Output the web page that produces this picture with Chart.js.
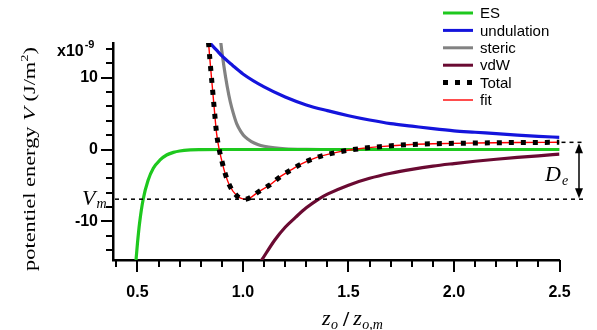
<!DOCTYPE html>
<html><head><meta charset="utf-8">
<script src="https://cdn.jsdelivr.net/npm/chart.js@4/dist/chart.umd.min.js"></script>
<style>html,body{margin:0;padding:0;background:#fff}#wrap{width:597px;height:330px;position:relative}</style>
</head><body><div id="wrap"><canvas id="c" width="597" height="330"></canvas></div>
<script>
// ---- data (x = zo/zo,m, V in 1e-9 J/m2) ----
const esX = [0.485, 0.493, 0.50, 0.51, 0.527, 0.55, 0.575, 0.607, 0.638, 0.67, 0.70, 0.75, 0.80, 0.90, 1.0, 1.5, 2.0, 2.5];
const esV = [-18.5, -15.35, -13.0, -10.2, -6.9, -4.3, -2.6, -1.45, -0.76, -0.4, -0.2, -0.06, -0.02, 0, 0, 0, 0, 0];
const undX = [0.82, 0.836, 0.85, 0.875, 0.9, 0.95, 1.0, 1.1, 1.2, 1.3, 1.4, 1.5, 1.6, 1.7, 1.8, 1.9, 2.0, 2.1, 2.2, 2.3, 2.4, 2.5];
const undV = [15.7, 15.1, 14.6, 13.8, 13.0, 11.7, 10.5, 8.7, 7.3, 6.2, 5.4, 4.7, 4.1, 3.6, 3.25, 2.9, 2.6, 2.4, 2.2, 2.0, 1.83, 1.7];
const stericX = [0.888, 0.894, 0.91, 0.925, 0.94, 0.955, 0.97, 0.99, 1.01, 1.04, 1.07, 1.1, 1.15, 1.2, 1.3, 1.4, 1.5, 2.0, 2.5];
const stericV = [17.0, 15.1, 11.5, 8.8, 6.6, 4.95, 3.6, 2.5, 1.75, 1.1, 0.7, 0.45, 0.22, 0.1, 0.02, 0, 0, 0, 0];
const vdwX = [1.07, 1.089, 1.15, 1.2, 1.25, 1.3, 1.355, 1.4, 1.5, 1.6, 1.7, 1.8, 1.9, 2.0, 2.1, 2.2, 2.3, 2.4, 2.5];
const vdwV = [-16.2, -15.35, -12.6, -10.8, -9.4, -8.1, -6.95, -6.2, -4.95, -4.0, -3.3, -2.75, -2.3, -1.95, -1.63, -1.35, -1.1, -0.87, -0.65];
const totalX = [0.832, 0.836, 0.845, 0.855, 0.865, 0.875, 0.888, 0.9, 0.912, 0.935, 0.97, 1.01, 1.04, 1.072, 1.128, 1.18, 1.23, 1.27, 1.35, 1.46, 1.55, 1.65, 1.8, 1.9, 2.1, 2.3, 2.5];
const totalV = [16.6, 15.1, 11.9, 8.6, 5.3, 2.2, -0.1, -1.6, -3.0, -4.9, -6.4, -6.9, -6.6, -5.9, -4.9, -3.7, -2.8, -2.1, -1.1, -0.3, 0.1, 0.4, 0.7, 0.8, 0.9, 0.97, 1.0];
const fitX = totalX.slice();
const fitV = totalV.slice();
const vmValue = -6.9;     // V_m level
const deTop = 1.0;        // plateau of total at large zo
const xTicks = [0.4,0.5,0.6,0.7,0.8,0.9,1.0,1.1,1.2,1.3,1.4,1.5,1.6,1.7,1.8,1.9,2.0,2.1,2.2,2.3,2.4,2.5];
const yTicks = [-14,-12,-10,-8,-6,-4,-2,0,2,4,6,8,10,12,14];
const seriesNames = ['ES','undulation','steric','vdW','Total','fit'];

const pts = (xs, vs) => xs.map((x, i) => ({x, y: vs[i]}));
const SANS = '"Liberation Sans", Arial, sans-serif';
const SERIF = '"Liberation Serif", "Times New Roman", serif';

const styles = [
  {color:'#1ec81e', width:3.2},
  {color:'#1414dc', width:3.2},
  {color:'#828282', width:3.2},
  {color:'#6a0a32', width:3.2},
  {color:'#000000', width:5, dash:[5,7]},
  {color:'#ff0000', width:1.4}
];
const seriesData = [pts(esX,esV), pts(undX,undV), pts(stericX,stericV), pts(vdwX,vdwV), pts(totalX,totalV), pts(fitX,fitV)];

const annot = {
  id:'annot',
  afterDraw(chart){
    const ctx = chart.ctx, xs = chart.scales.x, ys = chart.scales.y, ca = chart.chartArea;
    ctx.save();
    // tick marks
    ctx.strokeStyle = '#000'; ctx.lineWidth = 2;
    xTicks.forEach(v => {
      const p = Math.round(xs.getPixelForValue(v));
      const major = Math.abs(v*2 - Math.round(v*2)) < 1e-6;
      ctx.beginPath(); ctx.moveTo(p, ca.bottom); ctx.lineTo(p, ca.bottom + (major ? 12 : 7)); ctx.stroke();
    });
    yTicks.forEach(v => {
      const p = Math.round(ys.getPixelForValue(v));
      const major = v % 10 === 0;
      ctx.beginPath(); ctx.moveTo(ca.left, p); ctx.lineTo(ca.left - (major ? 12 : 7), p); ctx.stroke();
    });
    // dashed V_m and plateau lines
    ctx.lineWidth = 1.5; ctx.setLineDash([4,4]);
    const yVm = ys.getPixelForValue(vmValue), yTop = ys.getPixelForValue(deTop);
    ctx.beginPath(); ctx.moveTo(ca.left + 2, yVm); ctx.lineTo(586, yVm); ctx.stroke();
    ctx.beginPath(); ctx.moveTo(ca.right + 2, yTop); ctx.lineTo(584, yTop); ctx.stroke();
    ctx.setLineDash([]);
    // double arrow
    const ax = 579;
    ctx.lineWidth = 1.5;
    ctx.beginPath(); ctx.moveTo(ax, yTop + 6); ctx.lineTo(ax, yVm - 6); ctx.stroke();
    ctx.fillStyle = '#000';
    ctx.beginPath(); ctx.moveTo(ax, yTop + 1); ctx.lineTo(ax - 4, yTop + 11); ctx.lineTo(ax + 4, yTop + 11); ctx.closePath(); ctx.fill();
    ctx.beginPath(); ctx.moveTo(ax, yVm - 1); ctx.lineTo(ax - 4, yVm - 11); ctx.lineTo(ax + 4, yVm - 11); ctx.closePath(); ctx.fill();
    // V_m label
    ctx.textBaseline = 'alphabetic'; ctx.textAlign = 'left';
    ctx.font = 'italic 22px ' + SERIF; ctx.fillText('V', 82, yVm + 6);
    let w = ctx.measureText('V').width;
    ctx.font = 'italic 14px ' + SERIF; ctx.fillText('m', 82 + w + 1, yVm + 9);
    // D_e label
    ctx.font = 'italic 22px ' + SERIF; ctx.fillText('D', 545, 181);
    w = ctx.measureText('D').width;
    ctx.font = 'italic 14px ' + SERIF; ctx.fillText('e', 545 + w + 1, 185);
    // x10^-9
    ctx.font = 'bold 16px ' + SANS; ctx.fillText('x10', 57, 56);
    w = ctx.measureText('x10').width;
    ctx.font = 'bold 11px ' + SANS; ctx.fillText('-9', 57 + w + 1, 48);
    // y title
    ctx.save();
    ctx.translate(35, 159); ctx.rotate(-Math.PI/2);
    const parts = [
      {t:'potentiel energy ', f:'17px '+SERIF, dy:0},
      {t:'V', f:'italic 17px '+SERIF, dy:0},
      {t:' (J/m', f:'17px '+SERIF, dy:0},
      {t:'2', f:'11px '+SERIF, dy:-7},
      {t:')', f:'17px '+SERIF, dy:0}
    ];
    let tot = 0;
    parts.forEach(p => { ctx.font = p.f; p.w = ctx.measureText(p.t).width; tot += p.w; });
    const target = 224, s = target / tot;
    ctx.scale(s, 1);
    let cx = -tot/2;
    parts.forEach(p => { ctx.font = p.f; ctx.fillText(p.t, cx, p.dy); cx += p.w; });
    ctx.restore();
    // x title
    let xx = 322;
    ctx.font = 'italic 22px ' + SERIF; ctx.fillText('z', xx, 325); xx += ctx.measureText('z').width + 0.5;
    ctx.font = 'italic 14px ' + SERIF; ctx.fillText('o', xx, 329); xx += ctx.measureText('o').width + 5;
    ctx.font = 'bold 22px ' + SERIF; ctx.fillText('/', xx, 326); xx += ctx.measureText('/').width + 4;
    ctx.font = 'italic 22px ' + SERIF; ctx.fillText('z', xx, 325); xx += ctx.measureText('z').width + 0.5;
    ctx.font = 'italic 14px ' + SERIF; ctx.fillText('o,m', xx, 329);
    // legend
    ctx.font = '15px ' + SANS; ctx.textBaseline = 'middle';
    seriesNames.forEach((n, i) => {
      const y = 13 + i * 17.4;
      const st = styles[i];
      ctx.strokeStyle = st.color; ctx.lineWidth = st.width === 5 ? 5 : (st.width < 2 ? 1.4 : 3);
      ctx.setLineDash(st.dash || []);
      ctx.lineCap = 'butt';
      ctx.beginPath(); ctx.moveTo(443, y); ctx.lineTo(473, y); ctx.stroke();
      ctx.setLineDash([]);
      ctx.fillStyle = '#000'; ctx.fillText(n, 480, y + 1);
    });
    ctx.restore();
  }
};

new Chart(document.getElementById('c'), {
  type: 'line',
  data: {
    datasets: seriesNames.map((n, i) => ({
      label: n,
      data: seriesData[i],
      borderColor: styles[i].color,
      borderWidth: styles[i].width,
      borderDash: styles[i].dash || [],
      borderCapStyle: 'butt',
      cubicInterpolationMode: 'monotone',
      pointRadius: 0,
      fill: false,
      order: n === 'Total' ? 0 : (n === 'fit' ? 1 : 2)
    }))
  },
  options: {
    responsive: false, animation: false, devicePixelRatio: 1,
    layout: {padding: {left: 53, right: 37.5, top: 43, bottom: 30}},
    plugins: {legend: {display: false}, tooltip: {enabled: false}},
    scales: {
      x: {
        type: 'linear', min: 0.384, max: 2.5,
        afterBuildTicks: s => { s.ticks = xTicks.map(v => ({value: v})); },
        afterFit: s => { s.height = 40; },
        grid: {display: true, drawOnChartArea: false, drawTicks: true, tickLength: 12, tickColor: 'rgba(0,0,0,0)'},
        border: {display: true, color: '#000', width: 2.5},
        ticks: {
          autoSkip: false, maxRotation: 0, padding: 11, color: '#000',
          font: {family: SANS, size: 16, weight: 'bold'},
          callback: v => (Math.abs(v*2 - Math.round(v*2)) < 1e-6 ? v.toFixed(1) : '')
        }
      },
      y: {
        type: 'linear', min: -15.35, max: 14.8,
        afterBuildTicks: s => { s.ticks = yTicks.map(v => ({value: v})); },
        afterFit: s => { s.width = 60; },
        grid: {display: true, drawOnChartArea: false, drawTicks: true, tickLength: 12, tickColor: 'rgba(0,0,0,0)'},
        border: {display: true, color: '#000', width: 2.5},
        ticks: {
          autoSkip: false, padding: 3, color: '#000',
          font: {family: SANS, size: 16, weight: 'bold'},
          callback: v => (v % 10 === 0 ? String(v) : '')
        }
      }
    }
  },
  plugins: [annot]
});
</script></body></html>
